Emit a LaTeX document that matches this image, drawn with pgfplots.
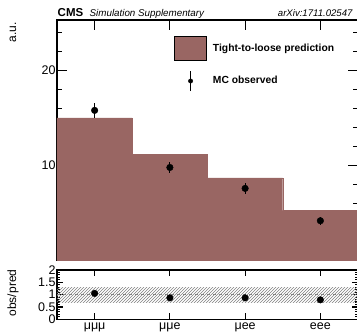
\documentclass[border=0pt]{standalone}
\usepackage{pgfplots}
\pgfplotsset{compat=1.18}
\usepackage{fontspec}
\setmainfont{Liberation Sans}
\usetikzlibrary{patterns,calc}
\definecolor{histc}{HTML}{996663}
\begin{document}
\begin{tikzpicture}
\pgfplotsset{
  rootstyle/.style={
    scale only axis, width=301pt, xmin=0, xmax=4,
    axis line style={line width=1.5pt},
    tick style={line width=1.1pt, black},
    tick align=inside,
    xtick={0.5,1.5,2.5,3.5},
    /pgf/number format/assume math mode=true,
    ticklabel style={font=\fontsize{12.5}{14}\selectfont},
    clip=true,
  }
}
\begin{axis}[rootstyle, name=main,
  at={(0pt,0pt)}, anchor=south west, height=240.7pt,
  ymin=0, ymax=25.3,
  ytick={0,10,20}, yticklabels={,10,20},
  minor ytick={2,4,6,8,12,14,16,18,22,24},
  major tick length=10pt, minor tick length=5pt,
  xticklabels={},
  xtick pos=both, ytick pos=both,
  yticklabel style={xshift=2pt},
  legend style={at={(0.3887,0.9335)}, anchor=north west, draw=none, fill=none,
    inner sep=0pt, row sep=8pt, column sep=6pt,
    font=\bfseries\fontsize{10.3}{12}\selectfont,
    nodes={inner sep=0pt, anchor=west}},
  legend cell align=left,
]
\addplot[const plot, fill=histc, draw=histc, forget plot] coordinates {(0,15.0)(1,11.2)(2,8.7)(3,5.3)(4,5.3)} \closedcycle;
\addplot[only marks, mark=*, mark size=3.3pt, black, forget plot,
  error bars/.cd, y dir=both, y explicit, error mark=none,
  error bar style={line width=1pt}]
  coordinates {(0.5,15.8) +- (0,0.78) (1.5,9.8) +- (0,0.58) (2.5,7.6) +- (0,0.55) (3.5,4.2) +- (0,0.4)};
\addlegendimage{black, legend image code/.code={
  \draw[fill=histc, draw=black, line width=0.8pt] (0pt,-12pt) rectangle (32pt,12pt);}}
\addlegendentry{Tight-to-loose prediction}
\addlegendimage{black, legend image code/.code={
  \path[draw=none, fill=none] (0pt,-12pt) rectangle (32pt,12pt);
  \draw[black, line width=1pt] (16pt,-10pt) -- (16pt,10pt);
  \fill[black] (16pt,0pt) circle (2.2pt);}}
\addlegendentry{MC observed}
\end{axis}
\begin{axis}[rootstyle,
  at={($(main.south west)+(0pt,-58.6pt)$)}, anchor=south west, height=49.3pt,
  ymin=0, ymax=2,
  ytick={0,0.5,1,1.5,2}, yticklabels={0,0.5,1,1.5,2},
  minor y tick num=4,
  major tick length=6pt, minor tick length=3pt,
  xticklabels={μμμ,μμe,μee,eee},
  xtick pos=both, ytick pos=both,
  xticklabel style={yshift=0pt},
  yticklabel style={xshift=2pt},
]
\addplot[draw=none, pattern=north east lines, pattern color=gray] coordinates {(0,0.7)(4,0.7)(4,1.3)(0,1.3)(0,0.7)};
\addplot[gray, dashed, line width=0.8pt] coordinates {(0,1)(4,1)};
\addplot[only marks, mark=*, mark size=3.3pt, black] coordinates {(0.5,1.05)(1.5,0.87)(2.5,0.87)(3.5,0.79)};
\end{axis}
\node[anchor=base west, inner sep=0pt, font=\bfseries\fontsize{11.5}{13}\selectfont] at ($(main.south west)+(0.5pt,244.2pt)$) {CMS};
\node[anchor=base west, inner sep=0pt, font=\itshape\fontsize{9.8}{12}\selectfont] at ($(main.south west)+(32.5pt,244.2pt)$) {Simulation Supplementary};
\node[anchor=base east, inner sep=0pt, font=\itshape\fontsize{9.6}{12}\selectfont] at ($(main.south west)+(295.7pt,244.2pt)$) {arXiv:1711.02547};
\node[rotate=90, anchor=east, inner sep=0pt, font=\fontsize{12}{14}\selectfont] at ($(main.south west)+(-44pt,238.7pt)$) {a.u.};
\node[rotate=90, anchor=center, inner sep=0pt, font=\fontsize{12}{14}\selectfont] at ($(main.south west)+(-44pt,-32.3pt)$) {obs/pred};
\pgfresetboundingbox
\useasboundingbox ($(main.south west)+(-57pt,-71.3pt)$) rectangle ($(main.south west)+(300pt,260.7pt)$);
\end{tikzpicture}
\end{document}
